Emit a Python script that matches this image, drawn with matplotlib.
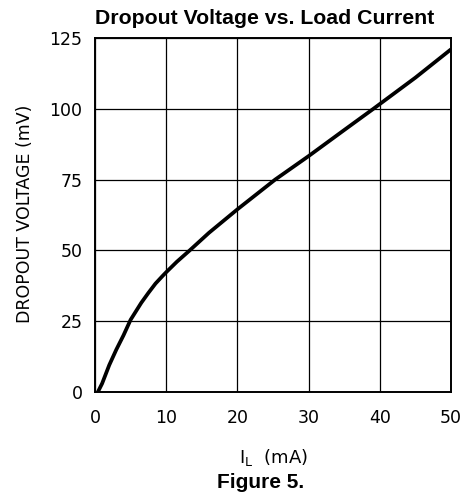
import numpy as np
import matplotlib
matplotlib.use("Agg")
import matplotlib.pyplot as plt

# Dropout voltage vs load current
load_ma = [0.4, 1.0, 2.0, 3.0, 4.0, 5.0, 5.5, 6.5, 7.5, 8.5, 9.5, 10.0, 11.5, 13.3,
           16.0, 20.0, 25.3, 30.0, 35.0, 39.1, 45.0, 50.0]
dropout_mv = [0.0, 3.0, 9.5, 15.0, 20.0, 25.5, 27.5, 31.5, 35.0, 38.3, 41.0, 42.3, 46.0, 50.0,
              56.2, 64.5, 75.0, 83.3, 92.5, 100.0, 111.0, 121.0]

x_ticks = [0, 10, 20, 30, 40, 50]
y_ticks = [0, 25, 50, 75, 100, 125]

fig = plt.figure(figsize=(4.66, 4.97), dpi=100)
ax = fig.add_axes([95 / 466, 1 - 392 / 497, 356 / 466, 354 / 497])

ax.plot(load_ma, dropout_mv, color='black', linewidth=2.7, solid_capstyle='butt')

ax.set_xlim(0, 50)
ax.set_ylim(0, 125)
ax.set_xticks(x_ticks)
ax.set_yticks(y_ticks)
ax.tick_params(length=0, labelsize=12.5)
ax.tick_params(axis='x', pad=12)
ax.tick_params(axis='y', pad=9)
ax.grid(True, color='black', linewidth=0.9)
for s in ax.spines.values():
    s.set_linewidth(1.4)

fig.text(25 / 466, 1 - 214 / 497, 'DROPOUT VOLTAGE (mV)', rotation=90, ha='center', va='center',
         fontsize=12.5)
fig.text(273 / 466, 1 - 457 / 497, r'I$_{\mathregular{L}}$  (mA)', ha='center', va='center',
         fontsize=13)

fig.text(265 / 466, 1 - 18 / 497, 'Dropout Voltage vs. Load Current', ha='center', va='center',
         fontsize=15.3, fontweight='bold', family='Liberation Sans')
fig.text(261 / 466, 1 - 483 / 497, 'Figure 5.', ha='center', va='center',
         fontsize=15, fontweight='bold', family='Liberation Sans')

fig.savefig('out.png', dpi=100)
